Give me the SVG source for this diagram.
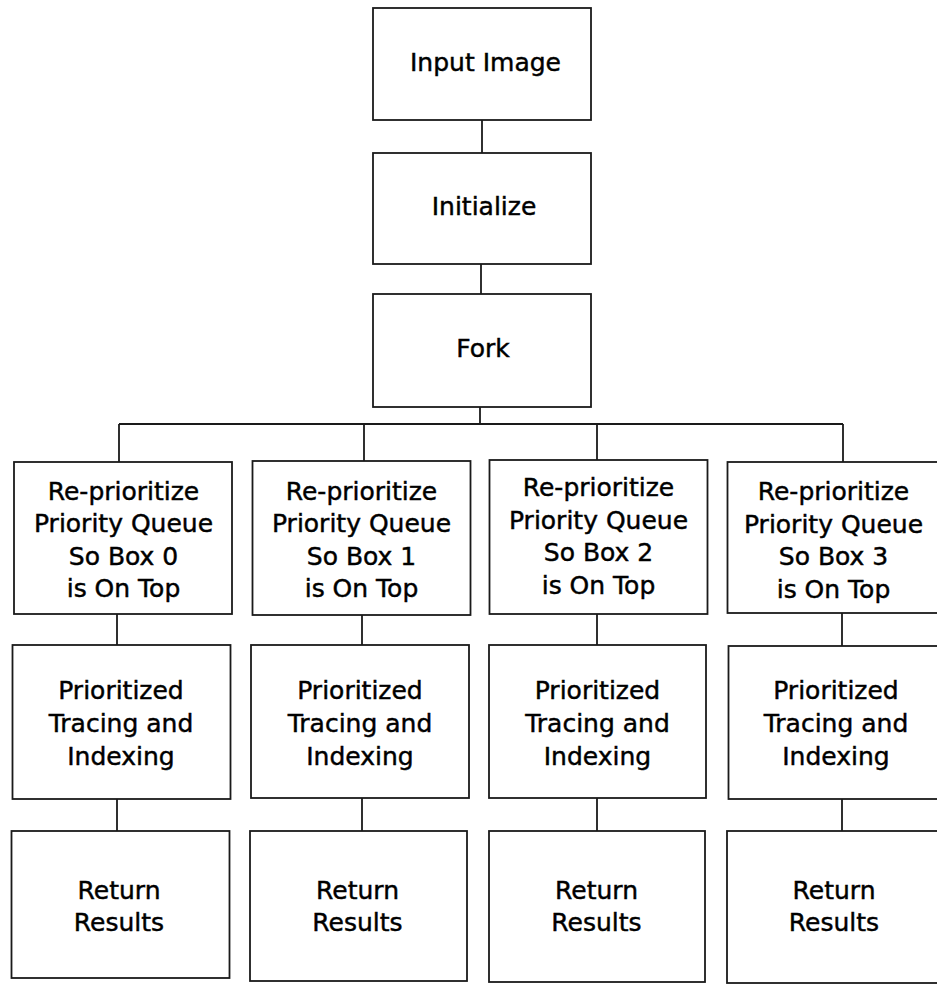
<svg xmlns="http://www.w3.org/2000/svg" width="937" height="987" viewBox="0 0 937 987">
<style>
rect{fill:#fff;stroke:#1a1a1a;stroke-width:1.8}
#connectors path{fill:none;stroke:#1a1a1a;stroke-width:1.8}
text{font-family:"DejaVu Sans","Liberation Sans",sans-serif;font-size:25px;fill:#000;stroke:#000;stroke-width:0.45;text-anchor:middle}
</style>
<rect x="0" y="0" width="937" height="987" style="stroke:none"/>
<g id="connectors">
<path d="M482 120V153"/>
<path d="M481 264V294"/>
<path d="M480 407V424"/>
<path d="M119 424H843"/>
<path d="M119 424V462M364 424V461M597 424V460M843 424V462"/>
<path d="M117 614V645M362 615V645M597 614V645M842 613V646"/>
<path d="M117 799V831M362 798V831M597 798V831M842 799V831"/>
</g>
<g id="input"><rect x="373" y="8" width="218" height="112"/><text x="485.5" y="71">Input Image</text></g>
<g id="init"><rect x="373" y="153" width="218" height="111"/><text x="484" y="215">Initialize</text></g>
<g id="fork"><rect x="373" y="294" width="218" height="113"/><text x="483" y="357">Fork</text></g>

<g id="reprio0"><rect x="14" y="462" width="218" height="152"/>
<text x="123.5" y="499.5">Re-prioritize</text><text x="123.5" y="532">Priority Queue</text><text x="123.5" y="564.5">So Box 0</text><text x="123.5" y="597">is On Top</text></g>
<g id="reprio1"><rect x="252.5" y="461" width="218" height="154"/>
<text x="361.5" y="499.5">Re-prioritize</text><text x="361.5" y="532">Priority Queue</text><text x="361.5" y="564.5">So Box 1</text><text x="361.5" y="597">is On Top</text></g>
<g id="reprio2"><rect x="489.5" y="460" width="218" height="154"/>
<text x="598.5" y="496">Re-prioritize</text><text x="598.5" y="528.5">Priority Queue</text><text x="598.5" y="561">So Box 2</text><text x="598.5" y="593.5">is On Top</text></g>
<g id="reprio3"><rect x="727.5" y="462" width="212" height="151"/>
<text x="833.5" y="500">Re-prioritize</text><text x="833.5" y="532.5">Priority Queue</text><text x="833.5" y="565">So Box 3</text><text x="833.5" y="597.5">is On Top</text></g>

<g id="trace0"><rect x="12.5" y="645" width="218" height="154"/>
<text x="121" y="699">Prioritized</text><text x="121" y="732">Tracing and</text><text x="121" y="765">Indexing</text></g>
<g id="trace1"><rect x="251" y="645" width="218" height="153"/>
<text x="360" y="699">Prioritized</text><text x="360" y="732">Tracing and</text><text x="360" y="765">Indexing</text></g>
<g id="trace2"><rect x="489" y="645" width="217" height="153"/>
<text x="597.5" y="699">Prioritized</text><text x="597.5" y="732">Tracing and</text><text x="597.5" y="765">Indexing</text></g>
<g id="trace3"><rect x="728.5" y="646" width="212" height="153"/>
<text x="836" y="699">Prioritized</text><text x="836" y="732">Tracing and</text><text x="836" y="765">Indexing</text></g>

<g id="return0"><rect x="11.5" y="831" width="218" height="147"/>
<text x="119" y="899">Return</text><text x="119" y="931">Results</text></g>
<g id="return1"><rect x="250" y="831" width="217" height="150"/>
<text x="357.5" y="899">Return</text><text x="357.5" y="931">Results</text></g>
<g id="return2"><rect x="489" y="831" width="216" height="151"/>
<text x="596.5" y="899">Return</text><text x="596.5" y="931">Results</text></g>
<g id="return3"><rect x="727" y="831" width="213" height="152"/>
<text x="834" y="899">Return</text><text x="834" y="931">Results</text></g>
</svg>
